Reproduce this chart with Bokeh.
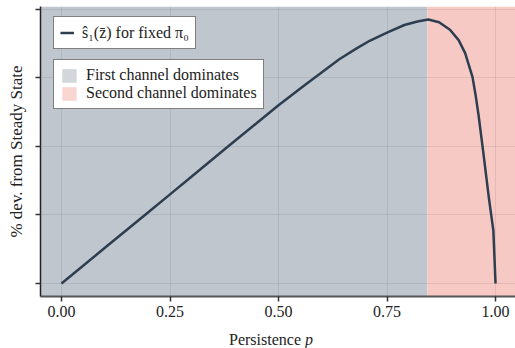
from bokeh.plotting import figure
from bokeh.models import (Range1d, FixedTicker, BoxAnnotation, Legend, LegendItem,
                          ColumnDataSource, Div)
from bokeh.layouts import column
from bokeh.embed import file_html
from bokeh.resources import INLINE

# ---- data ----
p_vals = [0.0, 0.1, 0.2, 0.25, 0.3, 0.38, 0.45, 0.5, 0.56, 0.6, 0.64, 0.68, 0.71,
          0.75, 0.79, 0.82, 0.845, 0.87, 0.895, 0.915, 0.93, 0.947, 0.954, 0.961,
          0.972, 0.984, 0.995, 1.0]
dev_vals = [0.0, 0.52, 1.04, 1.30, 1.56, 1.98, 2.34, 2.60, 2.89, 3.08, 3.27, 3.43, 3.54,
            3.66, 3.77, 3.82, 3.85, 3.81, 3.70, 3.55, 3.36, 3.01, 2.75, 2.45,
            1.90, 1.28, 0.77, 0.0]
threshold = 0.843          # first channel dominates below, second above
x_ticks = [0.0, 0.25, 0.5, 0.75, 1.0]
x_tick_labels = ["0.00", "0.25", "0.50", "0.75", "1.00"]
y_ticks = [0, 1, 2, 3, 4]

line_label = "s\u0302\u2081(z\u0304) for fixed \u03c0\u2080"
region_labels = ["First channel dominates", "Second channel dominates"]
x_label_html = "Persistence <i>p</i>"
y_label = "% dev. from Steady State"

FONT = "Liberation Serif"
GRAY_REGION = "#c0c6ce"
RED_REGION = "#f7c9c5"
GRAY_SWATCH = "#d3d7dc"
RED_SWATCH = "#fad6d3"
LINE = "#2c3e50"
TEXT = "#222222"

p = figure(width=515, height=331, output_backend="svg", toolbar_location=None,
           x_range=Range1d(-0.0484, 1.046), y_range=Range1d(-0.19, 4.04),
           min_border_left=40, min_border_right=0, min_border_top=6,
           min_border_bottom=35)
p.outline_line_color = None
p.background_fill_color = "white"
p.border_fill_color = "white"

# regions
p.add_layout(BoxAnnotation(right=threshold, fill_color=GRAY_REGION, fill_alpha=1.0,
                           line_color=None, level="image"))
p.add_layout(BoxAnnotation(left=threshold, fill_color=RED_REGION, fill_alpha=1.0,
                           line_color=None, level="image"))

# grid
for g in (p.xgrid, p.ygrid):
    g.grid_line_color = "black"
    g.grid_line_alpha = 0.08
    g.grid_line_width = 1
p.xgrid.ticker = FixedTicker(ticks=x_ticks)
p.ygrid.ticker = FixedTicker(ticks=y_ticks)

# axes
p.xaxis.ticker = FixedTicker(ticks=x_ticks)
p.xaxis.major_label_overrides = {t: s for t, s in zip(x_ticks, x_tick_labels)}
p.yaxis.ticker = FixedTicker(ticks=y_ticks)
p.yaxis.major_label_overrides = {t: "" for t in y_ticks}
p.yaxis.major_label_standoff = 0
p.xaxis.major_label_standoff = 4
for ax in (p.xaxis, p.yaxis):
    ax.major_tick_in = 0
    ax.major_tick_out = 5
    ax.minor_tick_line_color = None
    ax.major_tick_line_color = "#333333"
    ax.major_tick_line_width = 1.5
    ax.major_label_text_font = FONT
    ax.major_label_text_font_size = "16px"
    ax.major_label_text_color = TEXT
    ax.axis_label_text_font = FONT
    ax.axis_label_text_font_size = "17px"
    ax.axis_label_text_font_style = "normal"
    ax.axis_label_text_color = TEXT
p.yaxis.axis_line_color = "#222222"
p.yaxis.axis_line_width = 1.5
p.xaxis.axis_line_color = "#555555"
p.xaxis.axis_line_width = 2
p.yaxis.axis_label = y_label
p.yaxis.axis_label_standoff = 10

# main line
src = ColumnDataSource(data=dict(p=p_vals, dev=dev_vals))
line_r = p.line("p", "dev", source=src, line_color=LINE, line_width=2.5)

# legend-only swatches (off-screen)
sw1 = p.quad(left=[-5], right=[-4.9], bottom=[-5], top=[-4.9],
             fill_color=GRAY_SWATCH, line_color=None)
sw2 = p.quad(left=[-5], right=[-4.9], bottom=[-5], top=[-4.9],
             fill_color=RED_SWATCH, line_color=None)

leg1 = Legend(items=[LegendItem(label=line_label, renderers=[line_r])],
              location=(13, 247))
leg2 = Legend(items=[LegendItem(label=region_labels[0], renderers=[sw1]),
                     LegendItem(label=region_labels[1], renderers=[sw2])],
              location=(13, 187))
for lg in (leg1, leg2):
    lg.border_line_color = "black"
    lg.border_line_width = 1
    lg.background_fill_color = "white"
    lg.background_fill_alpha = 1.0
    lg.label_text_font = FONT
    lg.label_text_font_size = "16px"
    lg.label_text_color = TEXT
    lg.padding = 6
    lg.spacing = 0
    lg.margin = 0
    lg.label_standoff = 8
leg1.glyph_width = 14
leg1.glyph_height = 19
leg1.label_height = 19
leg2.glyph_width = 18
leg2.glyph_height = 17
leg2.label_height = 18
p.add_layout(leg1, "center")
p.add_layout(leg2, "center")

xlabel = Div(text=x_label_html, width=150, height=17, margin=(0, 0, 0, 229),
             styles={"font-family": FONT, "font-size": "16px", "color": TEXT,
                     "line-height": "17px", "white-space": "nowrap"})

layout = column(p, xlabel, spacing=0)
open("out.html", "w").write(file_html(layout, INLINE))
